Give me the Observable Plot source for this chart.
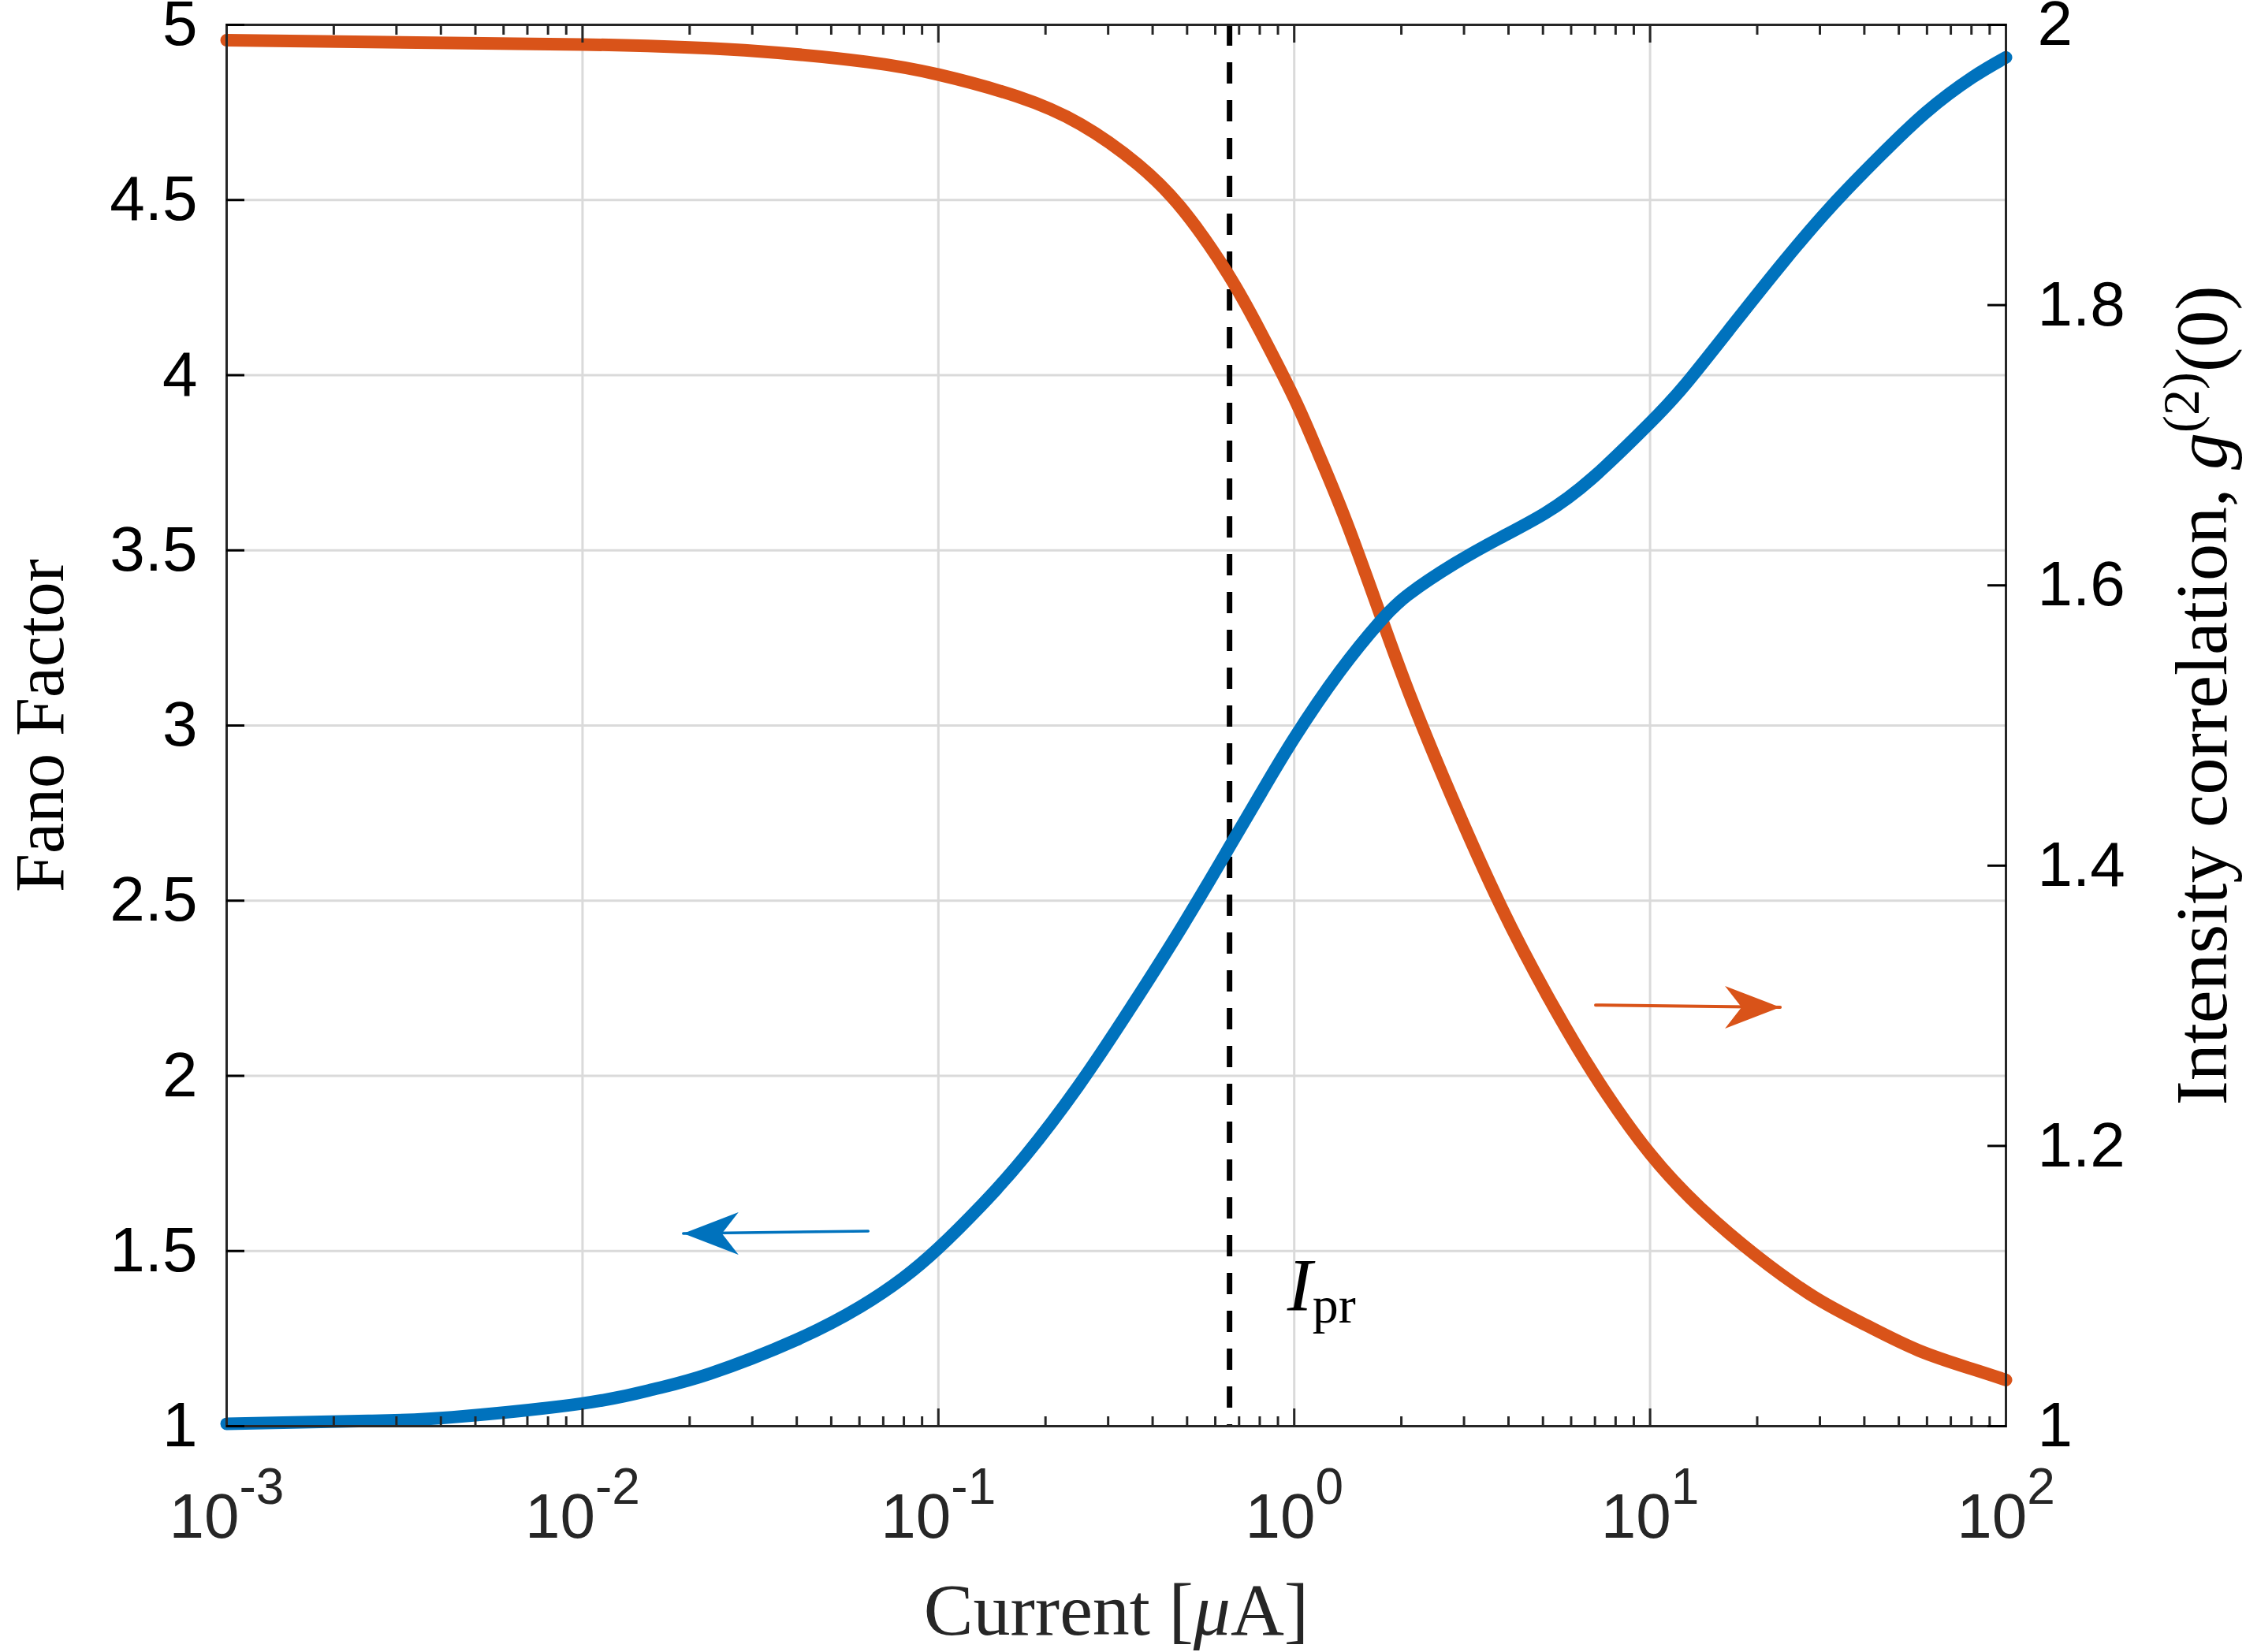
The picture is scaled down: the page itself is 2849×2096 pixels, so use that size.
<!DOCTYPE html>
<html>
<head>
<meta charset="utf-8">
<script src="https://cdn.jsdelivr.net/npm/d3@7"></script>
<script src="https://cdn.jsdelivr.net/npm/@observablehq/plot@0.6"></script>
<style>
html,body{margin:0;padding:0;background:#fff;}
svg{display:block;}
</style>
</head>
<body>
<div id="chart"></div>
<script>
// ---- Fano factor (left axis), current in µA ----
const currentFano = [0.001, 0.0025, 0.0043, 0.01, 0.0158, 0.0228, 0.0398, 0.0604, 0.0794, 0.1,
  0.132, 0.175, 0.247, 0.347, 0.486, 0.658, 0.811, 1, 1.34, 1.74,
  2.1, 2.82, 3.78, 5.05, 6.86, 10, 12.7, 17.3, 23.6, 32.1,
  43.8, 59.6, 80.5, 100];
const fanoFactor = [1.007, 1.015, 1.0256, 1.065, 1.105, 1.150, 1.246, 1.341, 1.422, 1.508,
  1.630, 1.770, 1.970, 2.194, 2.429, 2.654, 2.811, 2.964, 3.153, 3.296,
  3.375, 3.462, 3.535, 3.605, 3.705, 3.864, 3.979, 4.15, 4.321, 4.479,
  4.621, 4.75, 4.85, 4.907];

// ---- Intensity correlation g2(0) (right axis) ----
const currentG2 = [0.001, 0.01, 0.0316, 0.0632, 0.1, 0.166, 0.251, 0.363, 0.49, 0.652,
  0.8, 1, 1.17, 1.4, 1.74, 2.1, 2.74, 3.81, 5.14, 6.93,
  10, 14.1, 19.8, 28.8, 40.5, 56.9, 80.0, 100];
const g2Values = [1.989, 1.986, 1.981, 1.9735, 1.9645, 1.949, 1.929, 1.9005, 1.867, 1.822,
  1.782, 1.7335, 1.694, 1.6456, 1.58, 1.5236, 1.452, 1.371, 1.3075, 1.2516,
  1.1944, 1.154, 1.122, 1.0925, 1.072, 1.054, 1.041, 1.033];

// ---- Ticks ----
const xDecades = [1e-3, 1e-2, 1e-1, 1, 10, 100];
const fanoTicks = [1, 1.5, 2, 2.5, 3, 3.5, 4, 4.5, 5];
const fanoTickLabels = ["1", "1.5", "2", "2.5", "3", "3.5", "4", "4.5", "5"];
const g2Ticks = [1, 1.2, 1.4, 1.6, 1.8, 2];
const g2TickLabels = ["1", "1.2", "1.4", "1.6", "1.8", "2"];

// ---- Annotations ----
const iPr = [0.658];                         // dashed vertical line (µA)
const iPrLabel = [{x: 0.955, y: 1.33, text: "Ipr"}];
const arrowFano = [{x: 0.0635, y: 1.557}, {x: 0.0192, y: 1.550}];   // tail, tip (left axis)
const arrowG2 = [{x: 7.03, g: 1.3005}, {x: 23.2, g: 1.299}];        // tail, tip (right axis)

const xLabel = "Current [μA]";
const yLabelLeft = "Fano Factor";
const yLabelRight = "Intensity correlation, g(2)(0)";

const BLUE = "#0072BD", ORANGE = "#D95319", AXIS = "#262626", GRID = "#dadada";
const sansFont = "'Liberation Sans', Arial, Helvetica, sans-serif";
const serifFont = "'Liberation Serif', 'Times New Roman', serif";

// map g2 (right axis, 1..2) onto the left-axis scale (1..5)
const toLeft = g => 1 + (g - 1) * 4;

const fanoData = currentFano.map((x, i) => ({x, y: fanoFactor[i]}));
const g2Data = currentG2.map((x, i) => ({x, y: toLeft(g2Values[i])}));
const arrowG2Data = arrowG2.map(d => ({x: d.x, y: toLeft(d.g)}));
const xMinor = xDecades.slice(0, -1).flatMap(d => d3.range(2, 10).map(k => k * d));

// arrow-head symbols (tip at the data point)
const headRight = {draw(ctx, size) {
  const s = Math.sqrt(size / Math.PI) / 35;
  ctx.moveTo(0, 0); ctx.lineTo(-70 * s, -27 * s); ctx.lineTo(-49 * s, 0); ctx.lineTo(-70 * s, 27 * s); ctx.closePath();
}};
const headLeft = {draw(ctx, size) {
  const s = Math.sqrt(size / Math.PI) / 35;
  ctx.moveTo(0, 0); ctx.lineTo(70 * s, -27 * s); ctx.lineTo(49 * s, 0); ctx.lineTo(70 * s, 27 * s); ctx.closePath();
}};

const chart = Plot.plot({
  width: 2849,
  height: 2096,
  marginLeft: 287,
  marginRight: 305,
  marginTop: 31,
  marginBottom: 287,
  style: {fontFamily: sansFont, background: "white", overflow: "visible"},
  x: {type: "log", domain: [1e-3, 1e2]},
  y: {domain: [1, 5]},
  marks: [
    Plot.gridX(xDecades, {stroke: GRID, strokeOpacity: 1, strokeWidth: 3}),
    Plot.gridY(fanoTicks, {stroke: GRID, strokeOpacity: 1, strokeWidth: 3}),
    // dashed I_pr line
    Plot.ruleX(iPr, {stroke: "black", strokeWidth: 7, strokeDasharray: "27,21"}),
    // curves
    Plot.line(g2Data, {x: "x", y: "y", stroke: ORANGE, strokeWidth: 16, curve: "natural"}),
    Plot.line(fanoData, {x: "x", y: "y", stroke: BLUE, strokeWidth: 16, curve: "natural"}),
    // arrows
    Plot.line(arrowFano, {x: "x", y: "y", stroke: BLUE, strokeWidth: 3.5}),
    Plot.dot(arrowFano.slice(1), {x: "x", y: "y", symbol: headLeft, r: 35, fill: BLUE, stroke: "none"}),
    Plot.line(arrowG2Data, {x: "x", y: "y", stroke: ORANGE, strokeWidth: 4}),
    Plot.dot(arrowG2Data.slice(1), {x: "x", y: "y", symbol: headRight, r: 35, fill: ORANGE, stroke: "none"}),
    // I_pr label
    Plot.text(iPrLabel, {x: "x", y: "y", text: "text", textAnchor: "start", lineAnchor: "bottom",
      fontFamily: serifFont, fontSize: 96, fill: "black"}),
    // frame
    Plot.frame({stroke: AXIS, strokeWidth: 3}),
    // x axis (bottom): major + minor inside ticks
    Plot.axisX(xDecades, {anchor: "bottom", tickSize: -22, tickPadding: 107, strokeWidth: 3,
      stroke: AXIS, fill: AXIS, fontSize: 80, label: null,
      tickFormat: d => "10^" + Math.round(Math.log10(d))}),
    Plot.axisX(xMinor, {anchor: "bottom", tickSize: -12, tickPadding: 0, strokeWidth: 3,
      stroke: AXIS, label: null, tickFormat: () => ""}),
    // x axis (top): ticks only
    Plot.axisX(xDecades, {anchor: "top", tickSize: -22, strokeWidth: 3, stroke: AXIS, label: null, tickFormat: () => ""}),
    Plot.axisX(xMinor, {anchor: "top", tickSize: -12, strokeWidth: 3, stroke: AXIS, label: null, tickFormat: () => ""}),
    // left axis: Fano factor
    Plot.axisY(fanoTicks, {anchor: "left", tickSize: -23, tickPadding: 60, strokeWidth: 3,
      stroke: "black", fill: "black", fontSize: 80, label: null,
      tickFormat: d => fanoTickLabels[fanoTicks.indexOf(d)]}),
    // right axis: g2(0)
    Plot.axisY(g2Ticks.map(toLeft), {anchor: "right", tickSize: -24, tickPadding: 64, strokeWidth: 3,
      stroke: "black", fill: "black", fontSize: 80, label: null,
      tickFormat: d => g2TickLabels[g2Ticks.findIndex(g => Math.abs(toLeft(g) - d) < 1e-9)]}),
    // axis titles
    Plot.text([xLabel], {frameAnchor: "bottom", dy: 264, lineAnchor: "bottom", textAnchor: "middle",
      fontFamily: serifFont, fontSize: 94, fill: AXIS}),
    Plot.text([yLabelLeft], {frameAnchor: "left", dx: -208, dy: 0, rotate: -90, lineAnchor: "bottom",
      textAnchor: "middle", fontFamily: serifFont, fontSize: 88, fill: "black"}),
    Plot.text([yLabelRight], {frameAnchor: "right", dx: 279, dy: -38, rotate: -90, lineAnchor: "bottom",
      textAnchor: "middle", fontFamily: serifFont, fontSize: 94, fill: "black"})
  ]
});

document.getElementById("chart").appendChild(chart);

// rich text (superscripts, subscripts, italics) as tspans
function rich(el, parts) {
  const s = d3.select(el);
  s.text(null);
  for (const p of parts) {
    const t = s.append("tspan").text(p.t);
    if (p.italic) t.attr("font-style", "italic");
    if (p.size) t.attr("font-size", p.size);
    if (p.dy) t.attr("dy", p.dy);
  }
}
d3.select(chart).selectAll("text").each(function() {
  const t = this.textContent;
  const m = /^10\^(-?\d+)$/.exec(t);
  if (m) {
    rich(this, [{t: "10"}, {t: m[1], size: 64, dy: -43}]);
  } else if (t === xLabel) {
    rich(this, [{t: "Current ["}, {t: "μ", italic: true}, {t: "A]"}]);
  } else if (t === yLabelRight) {
    rich(this, [{t: "Intensity correlation, "}, {t: "g", italic: true},
      {t: "(2)", size: 66, dy: -35}, {t: "(0)", dy: 35}]);
  } else if (t === "Ipr") {
    rich(this, [{t: "I", italic: true}, {t: "pr", size: 66, dy: 15}]);
  }
});
</script>
</body>
</html>
